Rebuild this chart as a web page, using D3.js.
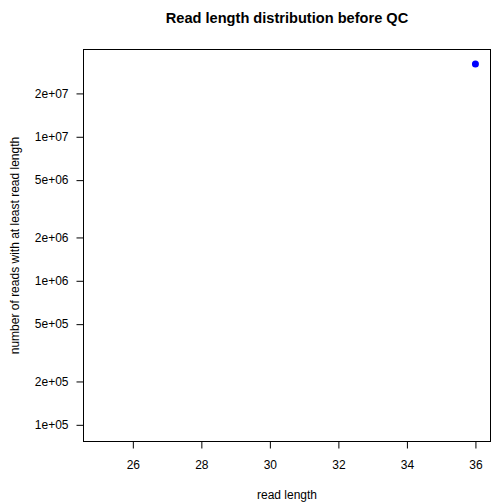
<!DOCTYPE html>
<html>
<head>
<meta charset="utf-8">
<script src="https://cdn.jsdelivr.net/npm/d3@7"></script>
<style>
  body { margin: 0; background: #ffffff; }
  text { font-family: "Liberation Sans", Arial, sans-serif; }
</style>
</head>
<body>
<div id="chart"></div>
<script>
// Read length distribution before QC
// Base-graphics style scatter with log y axis

var readLengths = [36];
var readCounts = [3.2e7];

// axis range of the data (R pads 4% each side)
var xRange = [25, 36];
var yRange = [9.66e4, 3.2e7];

var xTicks = [26, 28, 30, 32, 34, 36];
var yTicks = [1e5, 2e5, 5e5, 1e6, 2e6, 5e6, 1e7, 2e7];

var titleText = "Read length distribution before QC";
var xLabel = "read length";
var yLabel = "number of reads with at least read length";

(function() {

    var width = 494;
    var height = 502;

    var left = 83.5;
    var right = 490.5;
    var top = 49.5;
    var bottom = 441.5;

    var svg = d3.select("#chart")
        .append("svg")
        .attr("width", width)
        .attr("height", height);

    svg.append("rect")
        .attr("width", width)
        .attr("height", height)
        .attr("fill", "#ffffff");

    // 4% padding like R's default xaxs/yaxs = "r"
    var xPad = (xRange[1] - xRange[0]) * 0.04;
    var x = d3.scaleLinear()
        .domain([xRange[0] - xPad, xRange[1] + xPad])
        .range([left, right]);

    var ly0 = Math.log10(yRange[0]);
    var ly1 = Math.log10(yRange[1]);
    var lyPad = (ly1 - ly0) * 0.04;
    var y = d3.scaleLog()
        .domain([Math.pow(10, ly0 - lyPad), Math.pow(10, ly1 + lyPad)])
        .range([bottom, top]);

    function rFormat(v) {
        var e = Math.floor(Math.log10(v) + 1e-9);
        var m = Math.round(v / Math.pow(10, e));
        var sign = e >= 0 ? "+" : "-";
        var ae = Math.abs(e);
        return m + "e" + sign + (ae < 10 ? "0" + ae : ae);
    }

    // Title
    svg.append("text")
        .attr("x", (left + right) / 2)
        .attr("y", 23)
        .attr("text-anchor", "middle")
        .attr("font-size", "14.6px")
        .attr("font-weight", "bold")
        .attr("fill", "#000000")
        .text(titleText);

    // Plot box
    svg.append("rect")
        .attr("x", left)
        .attr("y", top)
        .attr("width", right - left)
        .attr("height", bottom - top)
        .attr("fill", "none")
        .attr("stroke", "#000000")
        .attr("stroke-width", 1);

    // X axis
    var xAxis = d3.axisBottom(x)
        .tickValues(xTicks)
        .tickSize(7)
        .tickPadding(12)
        .tickFormat(d3.format("d"));

    var gx = svg.append("g")
        .attr("transform", "translate(0," + bottom + ")")
        .call(xAxis);

    gx.select(".domain").remove();
    gx.selectAll("text")
        .attr("font-size", "12px")
        .attr("font-family", "Liberation Sans, Arial, sans-serif")
        .attr("fill", "#000000");

    // Y axis
    var yAxis = d3.axisLeft(y)
        .tickValues(yTicks)
        .tickSize(7)
        .tickPadding(8)
        .tickFormat(rFormat);

    var gy = svg.append("g")
        .attr("transform", "translate(" + left + ",0)")
        .call(yAxis);

    gy.select(".domain").remove();
    gy.selectAll("text")
        .attr("font-size", "12px")
        .attr("font-family", "Liberation Sans, Arial, sans-serif")
        .attr("fill", "#000000");

    // Axis labels
    svg.append("text")
        .attr("x", (left + right) / 2)
        .attr("y", 499)
        .attr("text-anchor", "middle")
        .attr("font-size", "12px")
        .attr("fill", "#000000")
        .text(xLabel);

    svg.append("text")
        .attr("transform", "translate(19," + ((top + bottom) / 2) + ") rotate(-90)")
        .attr("text-anchor", "middle")
        .attr("font-size", "12px")
        .attr("fill", "#000000")
        .text(yLabel);

    // Points
    var points = readLengths.map(function(d, i) {
        return { len: d, count: readCounts[i] };
    });

    svg.selectAll(".pt")
        .data(points)
        .enter()
        .append("circle")
        .attr("class", "pt")
        .attr("cx", function(d) {
            return x(d.len);
        })
        .attr("cy", function(d) {
            return y(d.count);
        })
        .attr("r", 3.5)
        .attr("fill", "#0000ff");

})();
</script>
</body>
</html>
